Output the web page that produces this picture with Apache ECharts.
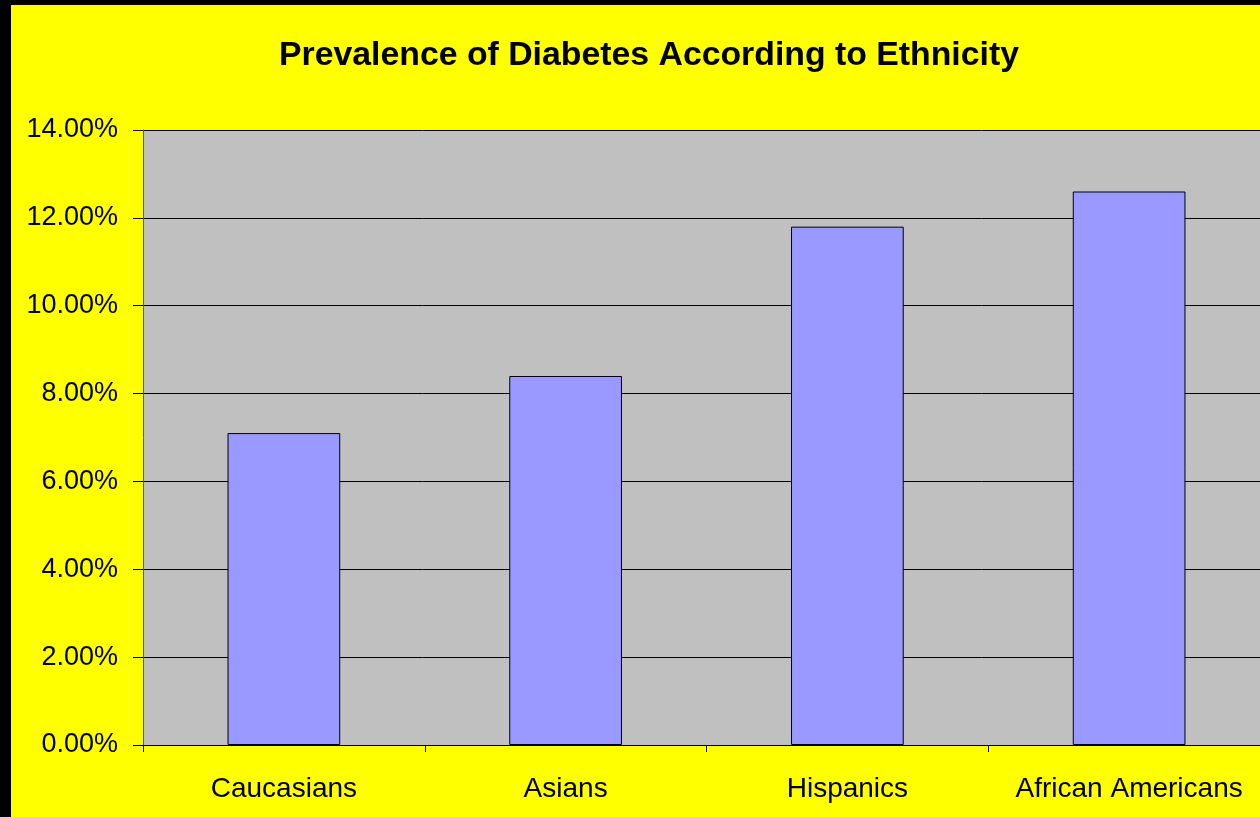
<!DOCTYPE html>
<html>
<head>
<meta charset="utf-8">
<script src="https://cdn.jsdelivr.net/npm/echarts@6/dist/echarts.min.js"></script>
<style>
  html, body { margin: 0; padding: 0; background: #000; }
  #chart { width: 1260px; height: 817px; }
</style>
</head>
<body>
<div id="chart"></div>
<script>
// Diabetes prevalence by ethnic group (percent)
const categories = ['Caucasians', 'Asians', 'Hispanics', 'African Americans'];
const prevalence = [7.1, 8.4, 11.8, 12.6];
const yTicks = [0, 2, 4, 6, 8, 10, 12, 14];

const chart = echarts.init(document.getElementById('chart'));
const font = '"Liberation Sans", Arial, sans-serif';

chart.setOption({
  backgroundColor: '#FFFF00',
  animation: false,
  title: {
    text: 'Prevalence of Diabetes According to Ethnicity',
    left: 644,
    textAlign: 'center',
    top: 34,
    textStyle: { fontFamily: font, fontSize: 33.8, fontWeight: 'bold', color: '#000' }
  },
  graphic: [
    { type: 'rect', shape: { x: 0, y: 0, width: 11, height: 817 }, style: { fill: '#000' } },
    { type: 'rect', shape: { x: 0, y: 0, width: 1260, height: 5 }, style: { fill: '#000' } }
  ],
  grid: {
    left: 143, top: 130, width: 1127, bottom: 72,
    outerBoundsMode: 'none',
    show: true, backgroundColor: '#C0C0C0', borderWidth: 0
  },
  xAxis: {
    type: 'category',
    data: categories,
    axisLine: { lineStyle: { color: '#000', width: 1 } },
    axisTick: { show: true, length: 7, lineStyle: { color: '#000' } },
    axisLabel: { interval: 0, fontFamily: font, fontSize: 28, color: '#000', margin: 30 }
  },
  yAxis: {
    type: 'value',
    min: yTicks[0],
    max: yTicks[yTicks.length - 1],
    interval: 2,
    axisLine: { show: true, lineStyle: { color: '#555', width: 1 } },
    axisTick: { show: true, length: 10, lineStyle: { color: '#000' } },
    axisLabel: {
      fontFamily: font, fontSize: 27, color: '#000', margin: 25,
      formatter: v => v.toFixed(2) + '%'
    },
    splitLine: { show: true, lineStyle: { color: '#000', width: 1 } }
  },
  series: [{
    type: 'bar',
    data: prevalence,
    barWidth: '40%',
    itemStyle: { color: '#9999FF', borderColor: '#000', borderWidth: 1 }
  }]
});
</script>
</body>
</html>
